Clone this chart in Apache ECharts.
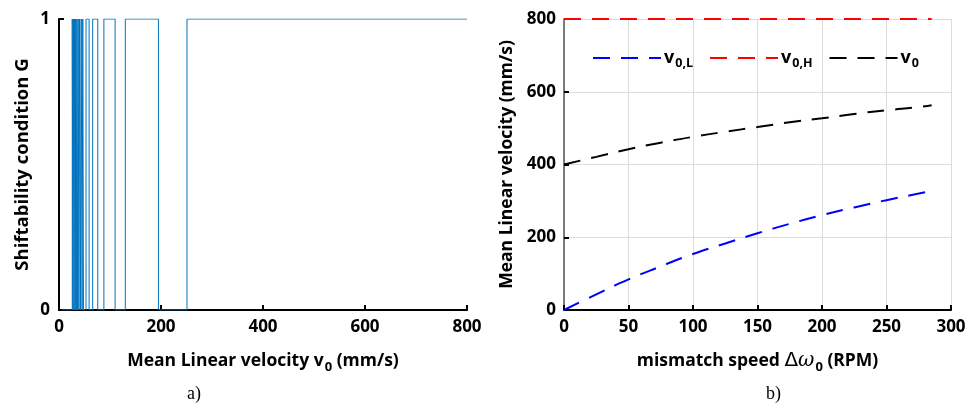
<!DOCTYPE html>
<html><head><meta charset="utf-8">
<script src="https://cdn.jsdelivr.net/npm/echarts@6/dist/echarts.min.js"></script>
<style>html,body{margin:0;padding:0;background:#fff}#c{width:971px;height:415px}</style>
</head><body><div id="c"></div>
<script>
// ---- Panel a): shiftability condition G vs mean linear velocity v0 ----
// velocity (mm/s) at which G switches, and G value from that velocity on
const shiftV = [6, 26, 27.4, 28.4, 29.6, 30.6, 31.8, 32.8, 34, 35, 36.4, 37.6, 39, 40.3, 42, 43.5, 45.3, 46.6, 48, 53, 59, 66, 76, 88, 110, 130, 195, 251, 800];
const shiftG = [0, 1, 0, 1, 0, 1, 0, 1, 0, 1, 0, 1, 0, 1, 0, 1, 0, 1, 0, 1, 0, 1, 0, 1, 0, 1, 0, 1, 1];
const aXTicks = [0, 200, 400, 600, 800];
const aYTicks = [0, 1];

// ---- Panel b): mean linear velocity vs mismatch speed ----
const mismatchRPM = [0, 25, 50, 75, 100, 125, 150, 175, 200, 225, 250, 275, 285];
const v0L = [0, 43, 84, 120, 154, 183, 211, 237, 261, 282, 302, 320, 328];
const v0H = [800, 800, 800, 800, 800, 800, 800, 800, 800, 800, 800, 800, 800];
const v0 = [400, 421, 442, 460, 476, 490, 503, 516, 527, 539, 549, 558, 563];
const bXTicks = [0, 50, 100, 150, 200, 250, 300];
const bYTicks = [0, 200, 400, 600, 800];

const FONT = '"Open Sans", sans-serif';
const lab = {fontFamily: FONT, fontWeight: 'bold', fontSize: 17, color: '#000'};
const ttl = {fontFamily: FONT, fontWeight: 'bold', fontSize: 17.5, color: '#000'};

const stepData = shiftV.map((v, i) => [v, shiftG[i]]);
const pair = (xs, ys) => xs.map((x, i) => [x, ys[i]]);

const chart = echarts.init(document.getElementById('c'), null, {renderer: 'canvas'});
chart.setOption({
  animation: false,
  backgroundColor: '#fff',
  grid: [
    {left: 59, right: 504, top: 19, bottom: 105, containLabel: false},
    {left: 564, right: 20, top: 19, bottom: 105, containLabel: false}
  ],
  legend: {
    left: 587, top: 44, itemWidth: 68, itemHeight: 14, itemGap: 16,
    data: ['v0,L', 'v0,H', 'v0'],
    itemStyle: {opacity: 0},
    lineStyle: {width: 2},
    formatter: function (n) { return '{v|v}{s|' + n.slice(1) + '}'; },
    textStyle: {
      padding: [0, 0, 0, -2],
      rich: {
        v: {fontFamily: FONT, fontWeight: 'bold', fontSize: 18, color: '#000'},
        s: {fontFamily: FONT, fontWeight: 'bold', fontSize: 12.5, color: '#000', padding: [11, 0, 0, 1]}
      }
    }
  },
  xAxis: [
    {
      gridIndex: 0, type: 'value', min: aXTicks[0], max: aXTicks[aXTicks.length - 1], interval: 200,
      axisLine: {lineStyle: {color: '#000', width: 2}},
      axisTick: {inside: true, length: 5, lineStyle: {color: '#000', width: 2}},
      axisLabel: Object.assign({margin: 9}, lab),
      splitLine: {show: false},
      name: '{t|Mean Linear velocity v}{s|0}{t| (mm/s)}', nameLocation: 'middle', nameGap: 38,
      nameTextStyle: {rich: {
        t: ttl,
        s: {fontFamily: FONT, fontWeight: 'bold', fontSize: 13, color: '#000', padding: [13, 0, 0, 1]}
      }}
    },
    {
      gridIndex: 1, type: 'value', min: bXTicks[0], max: bXTicks[bXTicks.length - 1], interval: 50,
      axisLine: {lineStyle: {color: '#000', width: 2}},
      axisTick: {inside: true, length: 5, lineStyle: {color: '#000', width: 2}},
      axisLabel: Object.assign({margin: 9}, lab),
      splitLine: {show: true, lineStyle: {color: '#dcdcdc', width: 1}},
      name: '{t|mismatch speed }{d|Δ}{w|ω}{s|0}{t| (RPM)}', nameLocation: 'middle', nameGap: 38,
      nameTextStyle: {rich: {
        t: ttl,
        d: {fontFamily: '"DejaVu Sans", sans-serif', fontSize: 20, color: '#000'},
        w: {fontFamily: '"DejaVu Serif", serif', fontStyle: 'italic', fontSize: 20, color: '#000'},
        s: {fontFamily: FONT, fontWeight: 'bold', fontSize: 13, color: '#000', padding: [13, 0, 0, 1]}
      }}
    }
  ],
  yAxis: [
    {
      gridIndex: 0, type: 'value', min: aYTicks[0], max: aYTicks[1], interval: 1,
      axisLine: {show: true, lineStyle: {color: '#000', width: 2}},
      axisTick: {show: true, inside: true, length: 5, lineStyle: {color: '#000', width: 2}},
      axisLabel: Object.assign({margin: 9}, lab),
      splitLine: {show: false},
      name: 'Shiftability condition G', nameLocation: 'middle', nameGap: 27,
      nameTextStyle: {fontFamily: FONT, fontWeight: 'bold', fontSize: 18.5, color: '#000'}
    },
    {
      gridIndex: 1, type: 'value', min: bYTicks[0], max: bYTicks[bYTicks.length - 1], interval: 200,
      axisLine: {show: true, lineStyle: {color: '#555', width: 1.5}},
      axisTick: {show: true, inside: true, length: 5, lineStyle: {color: '#000', width: 2}},
      axisLabel: Object.assign({margin: 8}, lab),
      splitLine: {show: true, lineStyle: {color: '#dcdcdc', width: 1}},
      name: 'Mean Linear velocity (mm/s)', nameLocation: 'middle', nameGap: 48,
      nameTextStyle: ttl
    }
  ],
  series: [
    {
      type: 'line', xAxisIndex: 0, yAxisIndex: 0, data: stepData, step: 'end',
      symbol: 'none', lineStyle: {color: '#0072BD', width: 1}, z: 1
    },
    {
      name: 'v0,L', type: 'line', xAxisIndex: 1, yAxisIndex: 1, data: pair(mismatchRPM, v0L),
      smooth: true, symbol: 'none', color: '#0000ff',
      lineStyle: {color: '#0000ff', width: 2, type: [17, 11]}
    },
    {
      name: 'v0,H', type: 'line', xAxisIndex: 1, yAxisIndex: 1, data: pair(mismatchRPM, v0H),
      symbol: 'none', color: '#ff0000',
      lineStyle: {color: '#ff0000', width: 2, type: [17, 11]}
    },
    {
      name: 'v0', type: 'line', xAxisIndex: 1, yAxisIndex: 1, data: pair(mismatchRPM, v0),
      smooth: true, symbol: 'none', color: '#000',
      lineStyle: {color: '#000', width: 2, type: [17, 11]}
    }
  ],
  graphic: [
    {type: 'text', left: 187, top: 385, style: {text: 'a)', font: '18px "Liberation Serif", serif', fill: '#000'}},
    {type: 'text', left: 766, top: 385, style: {text: 'b)', font: '18px "Liberation Serif", serif', fill: '#000'}}
  ]
});
</script>
</body></html>
